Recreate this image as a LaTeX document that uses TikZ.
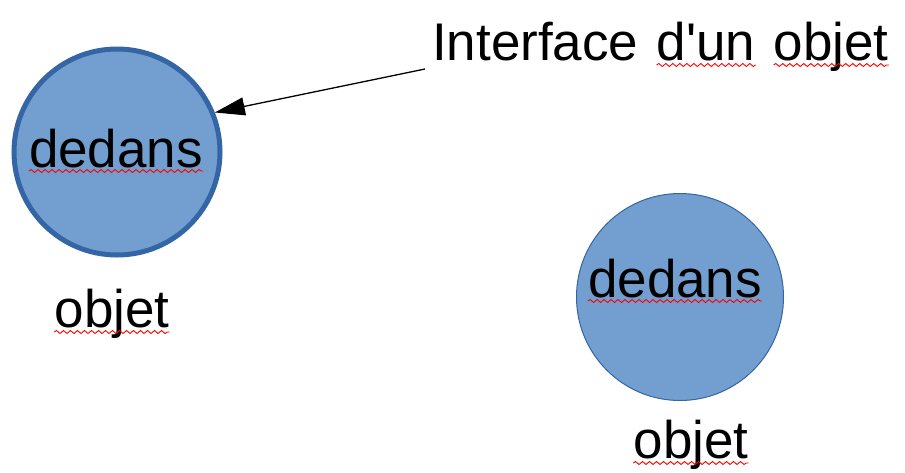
\documentclass[tikz,border=0pt]{standalone}
\usepackage{fontspec}
\setmainfont{Liberation Sans}[Ligatures=TeXOff]
\usetikzlibrary{arrows.meta, positioning, calc, decorations.pathmorphing}
\definecolor{bulle}{HTML}{729FCF}
\definecolor{bord}{HTML}{3465A4}
\tikzset{
  bulle/.style={circle, fill=bulle, draw=bord, minimum size=#1, inner sep=0pt},
  mot/.style={inner sep=0pt, font=\fontsize{53}{60}\selectfont},
  faute/.style={draw=red, line width=0.9pt, decorate, decoration={snake, segment length=7pt, amplitude=1.5pt}},
  fleche/.style={-{Triangle[length=30pt,width=18pt]}, line width=1.3pt}
}

\begin{document}
\begin{tikzpicture}[x=1pt,y=-1pt]
    \useasboundingbox (0,0) rectangle (905,472);

    \node[bulle=206pt, line width=5pt] (obj1) at (117,152) {};
    \node[bulle=207pt, line width=1pt] (obj2) at (680,297) {};

    \node[mot, anchor=base] (dedans1) at (116,167) {dedans};
    \node[mot, anchor=base] (dedans2) at (675,297) {dedans};
    \node[mot, anchor=base] (objet1) at (112,327) {objet};
    \node[mot, anchor=base] (objet2) at (691,458) {objet};

    \node[mot, anchor=base west] (interface) at (432,60) {Interface};
    \node[mot, base right=18pt of interface] (dun) {d'un};
    \node[mot, base right=18pt of dun] (objetI) {objet};

    % soulignements du correcteur
    \draw[faute] ($(dedans1.base west)+(0,4)$) -- ($(dedans1.base east)+(0,4)$);
    \draw[faute] ($(dedans2.base west)+(0,4)$) -- ($(dedans2.base east)+(0,4)$);
    \draw[faute] ($(objet1.base west)+(0,5)$) -- ($(objet1.base east)+(0,5)$);
    \draw[faute] ($(objet2.base west)+(0,5)$) -- ($(objet2.base east)+(0,5)$);
    \draw[faute] ($(dun.base west)+(0,5)$) -- ($(dun.base east)+(0,5)$);
    \draw[faute] ($(objetI.base west)+(0,5)$) -- ($(objetI.base east)+(0,5)$);

    \coordinate (depart) at ($(interface.base west)+(-7,9)$);
    \draw[fleche] (depart) -- (obj1.22);
\end{tikzpicture}
\end{document}
